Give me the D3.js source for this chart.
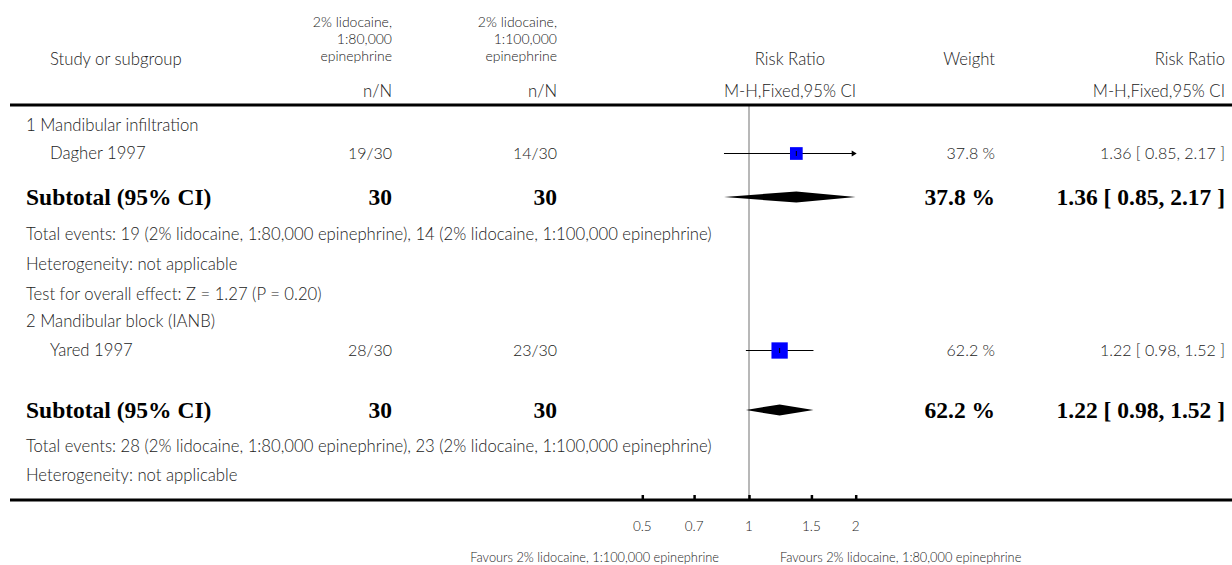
<!DOCTYPE html>
<html>
<head>
<meta charset="utf-8">
<script src="https://cdn.jsdelivr.net/npm/d3@7"></script>
<style>
  html, body { margin: 0; padding: 0; background: #fff; }
  svg { display: block; }
  .t { font-family: "Lato", "Open Sans", sans-serif; font-weight: 300; font-size: 16.7px; fill: #222; }
  .n { font-family: "Lato", "Open Sans", sans-serif; font-weight: 300; font-size: 16px; fill: #222; }
  .b { font-family: "Liberation Serif", "DejaVu Serif", serif; font-weight: bold; font-size: 23.5px; fill: #000; }
</style>
</head>
<body>
<svg id="chart" width="1232" height="565"></svg>
<script>
// ---------- data ----------
const groupLabels = ["1 Mandibular infiltration", "2 Mandibular block (IANB)"];
const studies = ["Dagher 1997", "Yared 1997"];
const eventsExp = [19, 28];
const totalExp = [30, 30];
const eventsCtl = [14, 23];
const totalCtl = [30, 30];
const studyRR = [1.36, 1.22];
const studyLo = [0.85, 0.98];
const studyHi = [2.17, 1.52];
const studyWeight = [37.8, 62.2];

const subtotalExp = [30, 30];
const subtotalCtl = [30, 30];
const subtotalRR = [1.36, 1.22];
const subtotalLo = [0.85, 0.98];
const subtotalHi = [2.17, 1.52];
const subtotalWeight = [37.8, 62.2];

const totalEventsText = [
  "Total events: 19 (2% lidocaine, 1:80,000 epinephrine), 14 (2% lidocaine, 1:100,000 epinephrine)",
  "Total events: 28 (2% lidocaine, 1:80,000 epinephrine), 23 (2% lidocaine, 1:100,000 epinephrine)"
];
const heterogeneityText = ["Heterogeneity: not applicable", "Heterogeneity: not applicable"];
const overallEffectText = ["Test for overall effect: Z = 1.27 (P = 0.20)", null];

const tickValues = [0.5, 0.7, 1, 1.5, 2];
const tickLabels = ["0.5", "0.7", "1", "1.5", "2"];
const favoursLeft = "Favours 2% lidocaine, 1:100,000 epinephrine";
const favoursRight = "Favours 2% lidocaine, 1:80,000 epinephrine";

// ---------- layout ----------
const svg = d3.select("#chart");
const x = d3.scaleLog().domain([0.5, 2]).range([642.3, 855.7]);
const clampX = v => x(Math.max(0.5, Math.min(2, v)));
const colExp = 392, colCtl = 557, colW = 995, colRR = 1225;
const xGroup = 26, xStudy = 50;
const axisY = 500, headerLineY = 105;

function txt(cls, xx, yy, s, anchor) {
  return svg.append("text").attr("class", cls).attr("x", xx).attr("y", yy)
    .attr("dy", "0.35em").attr("text-anchor", anchor || "start").text(s);
}
const fmt2 = d3.format(".2f");
const ciText = (r, l, h) => `${fmt2(r)} [ ${fmt2(l)}, ${fmt2(h)} ]`;
const wText = w => `${d3.format(".1f")(w)} %`;

// header
txt("t", xStudy, 59, "Study or subgroup");
[["2% lidocaine,", "1:80,000", "epinephrine"], ["2% lidocaine,", "1:100,000", "epinephrine"]].forEach((lines, i) => {
  const cx = i === 0 ? colExp : colCtl;
  lines.forEach((l, j) => txt("t", cx, 22 + j * 17, l, "end").style("font-size", "14px"));
  txt("t", cx, 91, "n/N", "end");
});
txt("t", 790, 59, "Risk Ratio", "middle");
txt("t", 790, 91, "M-H,Fixed,95% CI", "middle");
txt("t", colW, 59, "Weight", "end");
txt("t", colRR, 59, "Risk Ratio", "end");
txt("t", colRR, 91, "M-H,Fixed,95% CI", "end");

// reference line at 1
svg.append("line").attr("x1", x(1)).attr("x2", x(1)).attr("y1", headerLineY).attr("y2", axisY)
  .attr("stroke", "#a0a0a0").attr("stroke-width", 1.5);

svg.append("rect").attr("x", 10).attr("y", headerLineY - 1.5).attr("width", 1222).attr("height", 3).attr("fill", "#000");

// rows
const groupY = [[125, 153, 197, 234, 264, 294], [321, 350, 410, 446, 475, null]];
const sqScale = 12.7 / Math.sqrt(37.8);

groupLabels.forEach((g, i) => {
  const [yG, yS, ySub, yTE, yH, yT] = groupY[i];
  txt("t", xGroup, yG, g);
  // study row
  txt("t", xStudy, yS, studies[i]);
  txt("n", colExp, yS, `${eventsExp[i]}/${totalExp[i]}`, "end");
  txt("n", colCtl, yS, `${eventsCtl[i]}/${totalCtl[i]}`, "end");
  txt("n", colW, yS, wText(studyWeight[i]), "end");
  txt("n", colRR, yS, ciText(studyRR[i], studyLo[i], studyHi[i]), "end");
  const x1 = clampX(studyLo[i]), x2 = clampX(studyHi[i]);
  svg.append("line").attr("x1", x1).attr("x2", x2).attr("y1", yS + 0.5).attr("y2", yS + 0.5)
    .attr("stroke", "#000").attr("stroke-width", 1.2);
  if (studyHi[i] > 2) {
    const ax = x(2);
    svg.append("path").attr("d", `M${ax + 1},${yS + 0.5} L${ax - 4},${yS - 2.5} L${ax - 4},${yS + 3.5} Z`).attr("fill", "#000");
  }
  if (studyLo[i] < 0.5) {
    const ax = x(0.5);
    svg.append("path").attr("d", `M${ax - 1},${yS + 0.5} L${ax + 4},${yS - 2.5} L${ax + 4},${yS + 3.5} Z`).attr("fill", "#000");
  }
  const side = sqScale * Math.sqrt(studyWeight[i]);
  svg.append("rect").attr("x", x(studyRR[i]) - side / 2).attr("y", yS - side / 2 + 0.5)
    .attr("width", side).attr("height", side).attr("fill", "#0000ff");
  svg.append("line").attr("x1", x(studyRR[i])).attr("x2", x(studyRR[i])).attr("y1", yS - 2).attr("y2", yS + 3)
    .attr("stroke", "#000").attr("stroke-width", 1);

  // subtotal
  txt("b", xGroup, ySub, "Subtotal (95% CI)");
  txt("b", colExp, ySub, subtotalExp[i], "end");
  txt("b", colCtl, ySub, subtotalCtl[i], "end");
  txt("b", colW, ySub, wText(subtotalWeight[i]), "end");
  txt("b", colRR, ySub, ciText(subtotalRR[i], subtotalLo[i], subtotalHi[i]), "end");
  const h = 5.5;
  svg.append("path")
    .attr("d", `M${clampX(subtotalLo[i])},${ySub} L${x(subtotalRR[i])},${ySub - h} L${clampX(subtotalHi[i])},${ySub} L${x(subtotalRR[i])},${ySub + h} Z`)
    .attr("fill", "#000");

  txt("t", xGroup, yTE, totalEventsText[i]);
  txt("t", xGroup, yH, heterogeneityText[i]);
  if (overallEffectText[i]) txt("t", xGroup, yT, overallEffectText[i]);
});

// axis
svg.append("rect").attr("x", 10).attr("y", axisY - 1.5).attr("width", 1222).attr("height", 3).attr("fill", "#000");
const axis = d3.axisTop(x).tickValues(tickValues).tickFormat("").tickSize(5).tickSizeOuter(0);
const ag = svg.append("g").attr("transform", `translate(0,${axisY})`).call(axis);
ag.select(".domain").remove();
ag.selectAll(".tick line").attr("stroke", "#000").attr("stroke-width", 2.5);
tickValues.forEach((v, i) => txt("t", x(v), 526, tickLabels[i], "middle").style("font-size", "13.5px"));
txt("t", 719, 558, favoursLeft, "end").style("font-size", "12.8px");
txt("t", 780, 558, favoursRight, "start").style("font-size", "12.8px");
</script>
</body>
</html>
